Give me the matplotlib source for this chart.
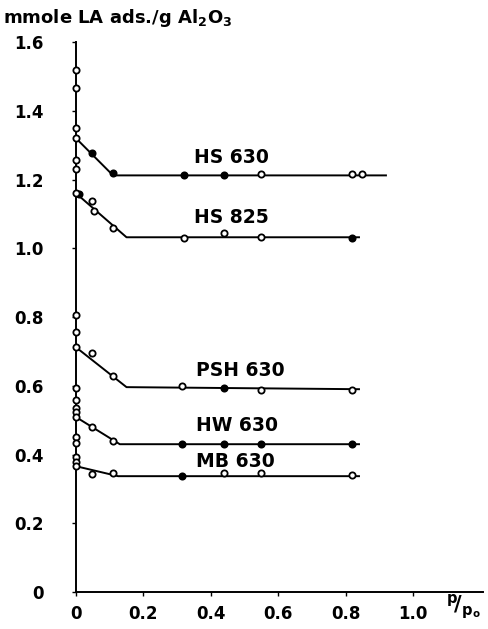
import matplotlib
matplotlib.use("Agg")
import matplotlib.pyplot as plt

plt.rcParams["font.family"] = ["DejaVu Sans"]
plt.rcParams["font.weight"] = "bold"
plt.rcParams["mathtext.default"] = "bf"

# isotherm points (x = p/p0, y = mmole LA / g Al2O3)
hs630_x = [0.047, 0.11, 0.32, 0.44, 0.55, 0.82, 0.85]
hs630_y = [1.276, 1.218, 1.212, 1.212, 1.215, 1.215, 1.215]
hs630_filled = [True, True, True, True, False, False, False]
hs630_line_x = [0.0, 0.11, 0.92]
hs630_line_y = [1.32, 1.212, 1.212]

hs825_x = [0.008, 0.047, 0.053, 0.11, 0.32, 0.44, 0.55, 0.82]
hs825_y = [1.157, 1.137, 1.107, 1.06, 1.03, 1.044, 1.032, 1.03]
hs825_filled = [True, False, False, False, False, False, False, True]
hs825_line_x = [0.0, 0.15, 0.84]
hs825_line_y = [1.16, 1.032, 1.032]

psh630_x = [0.047, 0.11, 0.315, 0.44, 0.55, 0.82]
psh630_y = [0.695, 0.628, 0.599, 0.593, 0.587, 0.589]
psh630_filled = [False, False, False, True, False, False]
psh630_line_x = [0.0, 0.15, 0.84]
psh630_line_y = [0.712, 0.596, 0.59]

hw630_x = [0.047, 0.11, 0.315, 0.44, 0.55, 0.82]
hw630_y = [0.48, 0.439, 0.43, 0.43, 0.43, 0.43]
hw630_filled = [False, False, True, True, True, True]
hw630_line_x = [0.0, 0.13, 0.84]
hw630_line_y = [0.509, 0.43, 0.43]

mb630_x = [0.047, 0.11, 0.315, 0.44, 0.55, 0.82]
mb630_y = [0.343, 0.346, 0.337, 0.346, 0.346, 0.34]
mb630_filled = [False, False, True, False, False, False]
mb630_line_x = [0.0, 0.125, 0.84]
mb630_line_y = [0.366, 0.337, 0.337]

# points sitting on the y axis (p/p0 ~ 0)
axis_y = [1.52, 1.465, 1.35, 1.32, 1.256, 1.23, 1.16,
          0.805, 0.756, 0.712, 0.593, 0.558, 0.535, 0.523, 0.509,
          0.451, 0.433, 0.392, 0.378, 0.366]

series = [
    ("HS 630", hs630_x, hs630_y, hs630_filled, hs630_line_x, hs630_line_y, 0.35, 1.265),
    ("HS 825", hs825_x, hs825_y, hs825_filled, hs825_line_x, hs825_line_y, 0.35, 1.09),
    ("PSH 630", psh630_x, psh630_y, psh630_filled, psh630_line_x, psh630_line_y, 0.355, 0.645),
    ("HW 630", hw630_x, hw630_y, hw630_filled, hw630_line_x, hw630_line_y, 0.355, 0.485),
    ("MB 630", mb630_x, mb630_y, mb630_filled, mb630_line_x, mb630_line_y, 0.355, 0.38),
]

fig = plt.figure(figsize=(4.88, 6.29), dpi=100)
ax = fig.add_axes([0.1557, 0.0588, 0.834, 0.8744])

for name, xs, ys, filled, lx, ly, tx, ty in series:
    ax.plot(lx, ly, color="black", linewidth=1.4, zorder=2)
    for x, y, f in zip(xs, ys, filled):
        ax.plot(x, y, marker="o", markersize=4.5, markeredgewidth=1.3,
                markeredgecolor="black", markerfacecolor="black" if f else "white",
                linestyle="none", zorder=3)
    ax.text(tx, ty, name, fontsize=13.5, ha="left", va="center")

ax.plot([0] * len(axis_y), axis_y, marker="o", markersize=4.5, markeredgewidth=1.3,
        markeredgecolor="black", markerfacecolor="white", linestyle="none",
        zorder=3, clip_on=False)

ax.set_xlim(0, 1.208)
ax.set_ylim(0, 1.6)
ax.spines[["top", "right"]].set_visible(False)
ax.spines["left"].set_linewidth(1.4)
ax.spines["bottom"].set_linewidth(1.4)

ax.set_xticks([0, 0.2, 0.4, 0.6, 0.8, 1.0])
ax.set_xticklabels(["0", "0.2", "0.4", "0.6", "0.8", "1.0"])
ax.set_yticks([0, 0.2, 0.4, 0.6, 0.8, 1.0, 1.2, 1.4, 1.6])
ax.set_yticklabels(["0", "0.2", "0.4", "0.6", "0.8", "1.0", "1.2", "1.4", "1.6"])
ax.tick_params(axis="y", length=3, width=1, pad=20, labelsize=12)
ax.tick_params(axis="x", length=3, width=1, pad=6, labelsize=12)

fig.text(0.006, 0.972, r"mmole LA ads./g Al$_2$O$_3$", fontsize=13, ha="left", va="center")
fig.text(0.985, 0.035, r"$^{p}\!/_{p_o}$", fontsize=15, ha="right", va="center")

fig.savefig("out.png", dpi=100)
